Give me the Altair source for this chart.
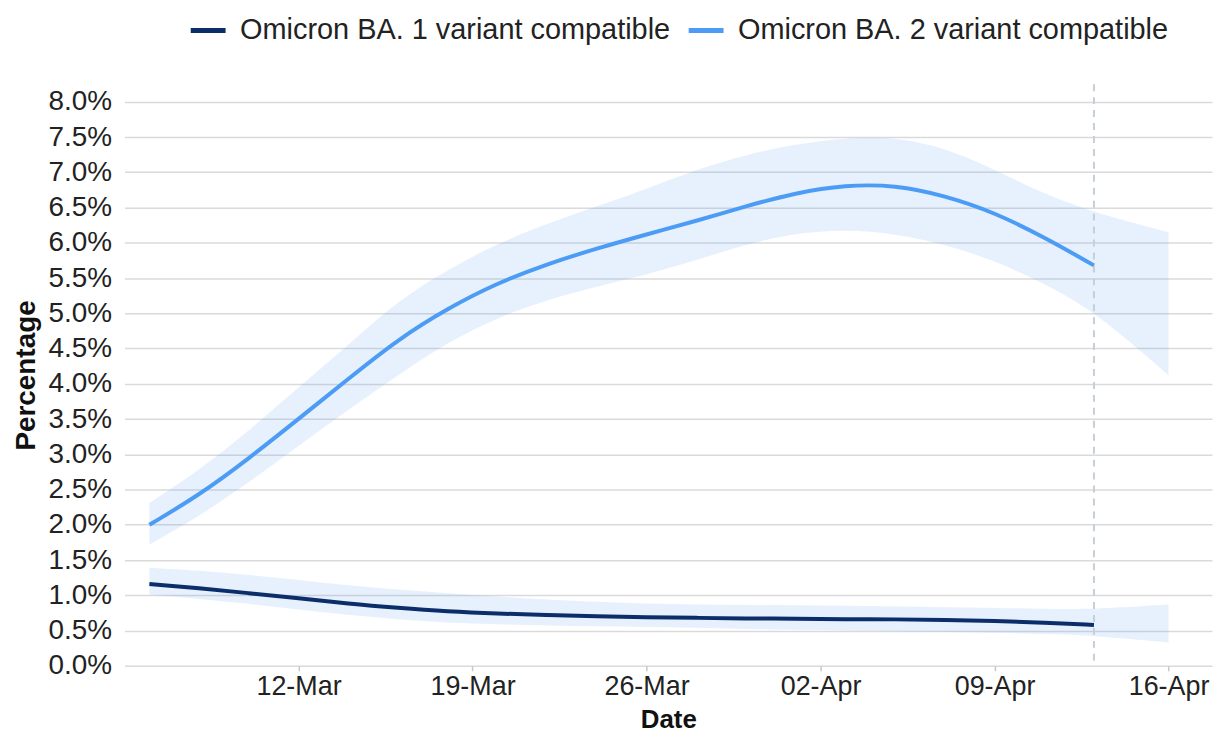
import altair as alt
import pandas as pd

BA1 = "Omicron BA. 1 variant compatible"
BA2 = "Omicron BA. 2 variant compatible"

dates = [
    "2022-03-06", "2022-03-08", "2022-03-10", "2022-03-12", "2022-03-14",
    "2022-03-16", "2022-03-18", "2022-03-20", "2022-03-22", "2022-03-24",
    "2022-03-26", "2022-03-28", "2022-03-30", "2022-04-01", "2022-04-03",
    "2022-04-05", "2022-04-07", "2022-04-09", "2022-04-11", "2022-04-13",
    "2022-04-16",
]

ba1_mid = [1.16, 1.10, 1.03, 0.96, 0.88, 0.82, 0.77, 0.74, 0.72, 0.70,
           0.69, 0.68, 0.67, 0.67, 0.66, 0.66, 0.65, 0.64, 0.61, 0.58, None]
ba1_hi = [1.39, 1.35, 1.29, 1.22, 1.14, 1.08, 1.03, 0.98, 0.94, 0.91,
          0.88, 0.87, 0.86, 0.86, 0.85, 0.84, 0.83, 0.82, 0.81, 0.80, 0.87]
ba1_lo = [1.01, 0.95, 0.88, 0.80, 0.72, 0.66, 0.61, 0.59, 0.57, 0.56,
          0.55, 0.54, 0.52, 0.51, 0.50, 0.49, 0.48, 0.47, 0.45, 0.43, 0.33]

ba2_mid = [2.00, 2.42, 2.94, 3.50, 4.07, 4.63, 5.07, 5.43, 5.70, 5.92,
           6.12, 6.31, 6.52, 6.71, 6.82, 6.82, 6.67, 6.43, 6.08, 5.68, None]
ba2_hi = [2.31, 2.77, 3.33, 3.95, 4.55, 5.18, 5.62, 5.99, 6.27, 6.52,
          6.76, 7.04, 7.25, 7.40, 7.49, 7.50, 7.35, 7.04, 6.69, 6.43, 6.15]
ba2_lo = [1.72, 2.12, 2.60, 3.12, 3.63, 4.12, 4.59, 4.94, 5.19, 5.38,
          5.55, 5.75, 5.98, 6.14, 6.19, 6.13, 5.98, 5.75, 5.42, 5.04, 4.12]

cutoff_date = ["2022-04-13"]
tick_dates = [(3, 12), (3, 19), (3, 26), (4, 2), (4, 9), (4, 16)]
y_ticks = [i * 0.5 for i in range(17)]

rows = []
for i, d in enumerate(dates):
    rows.append({"date": d + "T00:00:00", "variant": BA1,
                 "mid": ba1_mid[i], "lo": ba1_lo[i], "hi": ba1_hi[i]})
    rows.append({"date": d + "T00:00:00", "variant": BA2,
                 "mid": ba2_mid[i], "lo": ba2_lo[i], "hi": ba2_hi[i]})
df = pd.DataFrame(rows)

FONT = "Liberation Sans"

x_scale = alt.Scale(domain=[alt.DateTime(year=2022, month=3, date=5, hours=0),
                            alt.DateTime(year=2022, month=4, date=17, hours=18)])
x_axis = alt.Axis(
    values=[alt.DateTime(year=2022, month=m, date=d) for m, d in tick_dates],
    format="%d-%b", grid=False, domain=False, ticks=True, tickSize=5,
    tickColor="#c8c8c8", tickWidth=1.5, labelPadding=3, labelFontSize=27,
    titleBaseline="alphabetic", titleY=62, titleFontSize=26,
)
y_scale = alt.Scale(domain=[0, 8.25], nice=False)
y_axis = alt.Axis(
    values=y_ticks, labelExpr="format(datum.value, '.1f') + '%'",
    domain=False, ticks=False, labelPadding=13, grid=True,
    gridColor="#dadada", gridWidth=1.5, labelFontSize=28,
    titleX=-90, titleBaseline="alphabetic", titleFontSize=28,
)

base = alt.Chart(df)

bands = base.mark_area(interpolate="basis", color="#5b9af0", opacity=0.15).encode(
    x=alt.X("date:T", scale=x_scale, axis=x_axis, title="Date"),
    y=alt.Y("lo:Q", scale=y_scale, axis=y_axis, title="Percentage"),
    y2="hi:Q",
    detail="variant:N",
)

rule = alt.Chart(pd.DataFrame({"date": [c + "T00:00:00" for c in cutoff_date]})).mark_rule(
    color="#c6ced8", strokeDash=[7, 6], strokeWidth=2
).encode(x=alt.X("date:T", scale=x_scale, axis=x_axis, title="Date"))

lines = base.transform_filter("isValid(datum.mid)").mark_line(
    interpolate="basis", strokeWidth=4
).encode(
    x=alt.X("date:T", scale=x_scale, axis=x_axis, title="Date"),
    y=alt.Y("mid:Q", scale=y_scale, axis=y_axis, title="Percentage"),
    color=alt.Color(
        "variant:N",
        scale=alt.Scale(domain=[BA1, BA2], range=["#0b2e6b", "#4c9cf6"]),
        legend=alt.Legend(
            title=None, orient="none", legendX=64, legendY=-74,
            direction="horizontal", symbolType="stroke", symbolSize=1225,
            symbolStrokeWidth=5, labelFontSize=29, labelFont=FONT,
            labelColor="#222222", labelOffset=12, columnPadding=8, labelLimit=0,
        ),
    ),
)

chart = alt.layer(bands, rule, lines).properties(
    width=1092, height=584,
    autosize=alt.AutoSizeParams(type="none"),
    padding={"left": 117, "top": 75, "right": 5, "bottom": 68},
).configure_view(stroke=None).configure_axis(
    labelFont=FONT, labelColor="#222222",
    titleFont=FONT, titleFontWeight="bold", titleColor="#111111",
)

chart.save("out.html", embed_options={"renderer": "svg", "actions": False})
